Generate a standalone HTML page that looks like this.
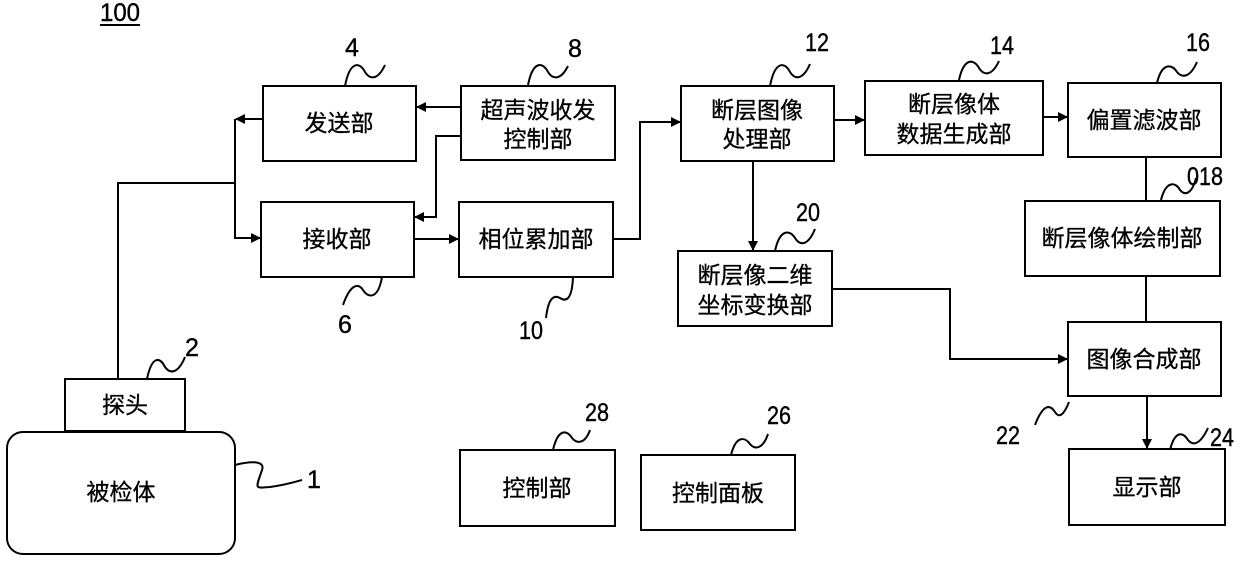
<!DOCTYPE html>
<html><head><meta charset="utf-8"><style>
body{margin:0;background:#fff}
svg{display:block}
.b{fill:#fff;stroke:#000;stroke-width:2}
.l{fill:none;stroke:#000;stroke-width:2}
.t{font-family:"Liberation Sans","Noto Sans CJK SC",sans-serif;font-size:23px;fill:#000;text-anchor:middle;stroke:#000;stroke-width:0.3}
.n{font-family:"Liberation Sans",sans-serif;font-size:25px;fill:#000;text-anchor:middle;stroke:#000;stroke-width:0.4}
</style></head><body>
<svg width="1240" height="580" viewBox="0 0 1240 580" xmlns="http://www.w3.org/2000/svg">
<defs><marker id="a" markerWidth="10" markerHeight="10" refX="9" refY="5" orient="auto" markerUnits="userSpaceOnUse"><path d="M0,0 L10,5 L0,10 z" fill="#000"/></marker></defs>
<text class="n" x="120" y="21" textLength="40" lengthAdjust="spacingAndGlyphs">100</text>
<line x1="100" y1="25" x2="140" y2="25" stroke="#000" stroke-width="2"/>
<rect class="b" x="263" y="86" width="153" height="75"/><text class="t" x="339" y="131">发送部</text>
<rect class="b" x="461" y="86" width="154" height="74"/><text class="t" x="538" y="118">超声波收发</text><text class="t" x="538" y="147">控制部</text>
<rect class="b" x="261" y="202" width="153" height="75"/><text class="t" x="337" y="247">接收部</text>
<rect class="b" x="459" y="202" width="154" height="75"/><text class="t" x="536" y="247">相位累加部</text>
<rect class="b" x="681" y="86" width="153" height="75"/><text class="t" x="757" y="118">断层图像</text><text class="t" x="757" y="147">处理部</text>
<rect class="b" x="865" y="81" width="178" height="74"/><text class="t" x="954" y="112">断层像体</text><text class="t" x="954" y="142">数据生成部</text>
<rect class="b" x="1068" y="83" width="153" height="74"/><text class="t" x="1144" y="128">偏置滤波部</text>
<rect class="b" x="1025" y="201" width="195" height="75"/><text class="t" x="1122" y="246">断层像体绘制部</text>
<rect class="b" x="678" y="251" width="154" height="75"/><text class="t" x="755" y="283">断层像二维</text><text class="t" x="755" y="313">坐标变换部</text>
<rect class="b" x="1068" y="322" width="153" height="74"/><text class="t" x="1144" y="367">图像合成部</text>
<rect class="b" x="1069" y="449" width="156" height="76"/><text class="t" x="1147" y="495">显示部</text>
<rect class="b" x="460" y="450" width="155" height="76"/><text class="t" x="537" y="496">控制部</text>
<rect class="b" x="641" y="455" width="154" height="75"/><text class="t" x="718" y="501">控制面板</text>
<rect class="b" x="65" y="379" width="120" height="52"/><text class="t" x="125" y="413">探头</text>
<rect class="b" x="7" y="432" width="228" height="122" rx="16"/><text class="t" x="121" y="500">被检体</text>
<path class="l" d="M118 379 V183 H235"/>
<path class="l" d="M262 119 H236" marker-end="url(#a)"/>
<path class="l" d="M235 119 V238 H260" marker-end="url(#a)"/>
<path class="l" d="M461 107 H417" marker-end="url(#a)"/>
<path class="l" d="M461 136 H436 V217 H415" marker-end="url(#a)"/>
<path class="l" d="M414 239 H458" marker-end="url(#a)"/>
<path class="l" d="M613 239 H640 V122 H680" marker-end="url(#a)"/>
<path class="l" d="M834 120 H864" marker-end="url(#a)"/>
<path class="l" d="M1043 117 H1067" marker-end="url(#a)"/>
<path class="l" d="M753 161 V250" marker-end="url(#a)"/>
<path class="l" d="M1146 157 V201 M1146 276 V322"/>
<path class="l" d="M832 289 H950 V359 H1067" marker-end="url(#a)"/>
<path class="l" d="M1147 396 V448" stroke-width="3" marker-end="url(#a)"/>
<g class="l" stroke-width="1.6">
<path d="M345 86 C350 60,360 62,365 72 C370 80,378 80,385 65"/>
<path d="M528 85 C533 60,543 62,548 72 C553 80,561 80,568 66"/>
<path d="M382 277 C378 300,368 298,363 290 C358 282,350 285,343 305"/>
<path d="M573 277 C572 300,566 302,560 298 C553 294,548 300,546 318"/>
<path d="M770 86 C775 60,785 62,790 72 C795 80,803 80,810 64"/>
<path d="M959 80 C964 57,974 59,979 68 C984 76,992 76,999 61"/>
<path d="M1157 83 C1162 62,1172 64,1177 72 C1182 78,1190 78,1197 62"/>
<path d="M1161 200 C1166 180,1176 182,1180 190 C1185 196,1192 194,1196 178"/>
<path d="M775 251 C780 228,790 230,795 238 C800 246,808 246,815 229"/>
<path d="M147 379 C152 355,160 357,165 367 C170 374,178 374,185 357"/>
<path d="M235 465 C255 460,265 462,262 470 C255 490,255 488,270 487 C285 485,295 482,302 480"/>
<path d="M553 450 C558 428,567 430,572 438 C577 444,585 444,590 430"/>
<path d="M731 455 C736 435,745 437,750 444 C755 450,763 449,768 434"/>
<path d="M1069 402 C1065 412,1060 420,1055 412 C1050 404,1043 404,1035 425"/>
<path d="M1170 450 C1175 430,1183 432,1188 440 C1193 446,1200 445,1208 428"/>
</g>
<text class="n" x="352" y="56">4</text>
<text class="n" x="575" y="57">8</text>
<text class="n" x="345" y="333">6</text>
<text class="n" x="531" y="339" textLength="24" lengthAdjust="spacingAndGlyphs">10</text>
<text class="n" x="817" y="51" textLength="24" lengthAdjust="spacingAndGlyphs">12</text>
<text class="n" x="1002" y="54" textLength="24" lengthAdjust="spacingAndGlyphs">14</text>
<text class="n" x="1198" y="51" textLength="24" lengthAdjust="spacingAndGlyphs">16</text>
<text class="n" x="1205" y="185" textLength="36" lengthAdjust="spacingAndGlyphs">018</text>
<text class="n" x="808" y="221" textLength="24" lengthAdjust="spacingAndGlyphs">20</text>
<text class="n" x="192" y="356">2</text>
<text class="n" x="314" y="488">1</text>
<text class="n" x="597" y="421" textLength="24" lengthAdjust="spacingAndGlyphs">28</text>
<text class="n" x="779" y="424" textLength="24" lengthAdjust="spacingAndGlyphs">26</text>
<text class="n" x="1008" y="444" textLength="24" lengthAdjust="spacingAndGlyphs">22</text>
<text class="n" x="1222" y="446" textLength="24" lengthAdjust="spacingAndGlyphs">24</text>
</svg>
</body></html>
